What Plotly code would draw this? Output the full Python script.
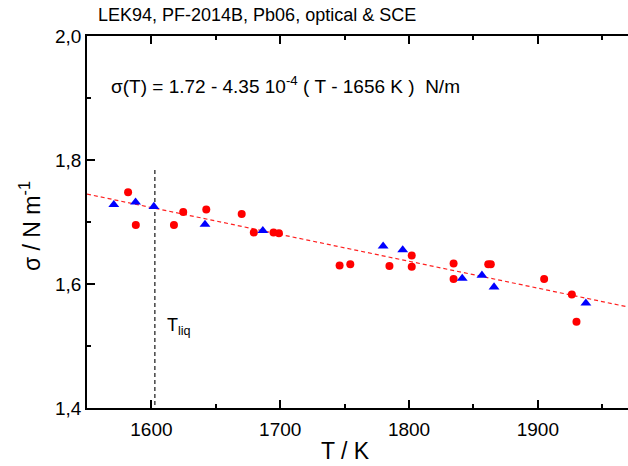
import plotly.graph_objects as go

# Data
circle_T = [1581.9, 1587.9, 1617.5, 1624.7, 1642.6, 1670.1, 1679.5, 1694.8, 1699.0,
            1746.1, 1754.4, 1784.8, 1802.1, 1802.1, 1834.6, 1834.6, 1861.5, 1863.5,
            1904.9, 1926.4, 1930.0]
circle_sigma = [1.748, 1.695, 1.695, 1.716, 1.720, 1.713, 1.683, 1.683, 1.682,
                1.630, 1.632, 1.629, 1.646, 1.628, 1.633, 1.608, 1.632, 1.632,
                1.608, 1.583, 1.539]
tri_T = [1570.8, 1587.7, 1601.9, 1641.6, 1686.5, 1779.9, 1795.1, 1841.3, 1856.6, 1866.0, 1937.3]
tri_sigma = [1.728, 1.732, 1.725, 1.696, 1.686, 1.661, 1.655, 1.609, 1.614, 1.595, 1.569]
fit_T = [1550, 1970]
fit_sigma = [1.745, 1.563]
T_liq = 1602.7
T_liq_sigma = [1.784, 1.4]

x_ticks = [1600, 1700, 1800, 1900]
y_ticks = [1.4, 1.6, 1.8, 2.0]

FONT = "Liberation Sans, Arial, sans-serif"

fig = go.Figure()
fig.add_trace(go.Scatter(x=fit_T, y=fit_sigma, mode="lines",
                         line=dict(color="#ff2020", width=1.2, dash="4px,3px"),
                         showlegend=False, hoverinfo="skip"))
fig.add_trace(go.Scatter(x=[T_liq, T_liq], y=T_liq_sigma, mode="lines",
                         line=dict(color="black", width=1.1, dash="4px,3px"),
                         showlegend=False, hoverinfo="skip"))
fig.add_trace(go.Scatter(x=circle_T, y=circle_sigma, mode="markers",
                         marker=dict(symbol="circle", size=8, color="#ff0000",
                                     line=dict(width=0)),
                         showlegend=False))
fig.add_trace(go.Scatter(x=tri_T, y=tri_sigma, mode="markers",
                         marker=dict(symbol="triangle-up", size=9.5, color="#0000ff",
                                     line=dict(width=0)),
                         showlegend=False))

L, T_, R, B = 87, 36, 0, 58
W, H = 628, 466
pw = W - L - R
ph = H - T_ - B

def px_x(px):
    return (px - L) / pw

def px_y(py):
    return (H - B - py) / ph

axis_common = dict(showline=True, linecolor="black", linewidth=1.5,
                   ticks="inside", ticklen=8, tickwidth=1.5, tickcolor="black",
                   showgrid=False, zeroline=False,
                   tickfont=dict(family=FONT, size=19, color="black"))

fig.update_xaxes(range=[1550, 1970], tickvals=x_ticks, mirror="ticks",
                 minor=dict(dtick=50, tick0=1550, ticks="inside", ticklen=4,
                            tickwidth=1.5, tickcolor="black"),
                 ticklabelstandoff=3,
                 **axis_common)
fig.update_yaxes(range=[1.4, 2.0], tickvals=y_ticks, tickformat=".1f",
                 minor=dict(dtick=0.1, tick0=1.4, ticks="inside", ticklen=4,
                            tickwidth=1.5, tickcolor="black"),
                 **axis_common)

ann = []
ann.append(dict(text="LEK94, PF-2014B, Pb06, optical & SCE", xref="paper", yref="paper",
                x=px_x(96), y=px_y(15), xanchor="left", yanchor="middle", showarrow=False,
                font=dict(family=FONT, size=18, color="black")))
ann.append(dict(text="σ(T) = 1.72 - 4.35 10<sup>-4</sup> ( T - 1656 K )  N/m",
                xref="paper", yref="paper",
                x=px_x(109), y=px_y(85), xanchor="left", yanchor="middle", showarrow=False,
                font=dict(family=FONT, size=19, color="black")))
ann.append(dict(text="T<sub>liq</sub>", xref="paper", yref="paper",
                x=px_x(165), y=px_y(326), xanchor="left", yanchor="middle", showarrow=False,
                font=dict(family=FONT, size=18, color="black")))
ann.append(dict(text="T / K", xref="paper", yref="paper",
                x=px_x(345), y=px_y(466), xanchor="center", yanchor="bottom", showarrow=False,
                font=dict(family=FONT, size=23, color="black")))
ann.append(dict(text="σ / N m<sup>-1</sup>", xref="paper", yref="paper", textangle=-90,
                x=px_x(30), y=px_y(226), xanchor="center", yanchor="middle", showarrow=False,
                font=dict(family=FONT, size=23, color="black")))

fig.update_layout(width=W, height=H, margin=dict(l=L, r=R, t=T_, b=B),
                  paper_bgcolor="white", plot_bgcolor="white",
                  separators=",.", annotations=ann, showlegend=False)

fig.write_html("out.html")
